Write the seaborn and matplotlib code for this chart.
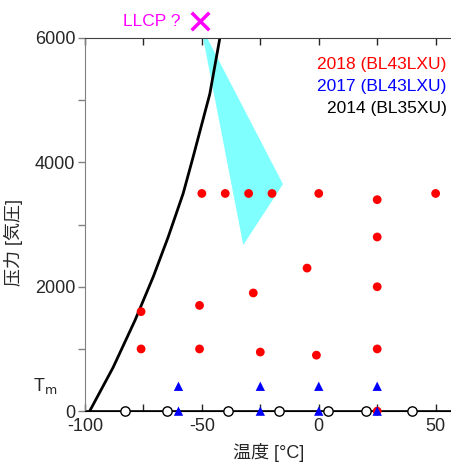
import numpy as np
import pandas as pd
import matplotlib
matplotlib.use('Agg')
import matplotlib.pyplot as plt
import seaborn as sns

# 2018 (BL43LXU) points
t_2018 = [-50, -40, -30, -20, 0, 25, 50, 25, -5, 25, -28, -51, -76, -76, -51, -25, -1, 25, 25]
p_2018 = [3500, 3500, 3500, 3500, 3500, 3400, 3500, 2800, 2300, 2000, 1900, 1700, 1600,
          1000, 1000, 950, 900, 1000, 0]
# 2017 (BL43LXU) points
t_2017 = [-60, -25, 0, 25, -60, -25, 0, 25]
p_2017 = [400, 400, 400, 400, 0, 0, 0, 0]
# 2014 (BL35XU) points
t_2014 = [-83, -65, -39, -17, 4, 20, 40]
p_2014 = [0, 0, 0, 0, 0, 0, 0]
# melting curve
t_melt = [-98, -88, -78.6, -70.8, -64.4, -58, -54, -46.6, -42.3]
p_melt = [0, 700, 1460, 2160, 2800, 3500, 4050, 5100, 6000]
# cyan region
t_zone = [-50.5, -15.3, -32.3]
p_zone = [6200, 3650, 2670]
llcp_t, llcp_p = -51, 6270

sns.set_style('ticks')
plt.rcParams['font.family'] = ['Liberation Sans', 'Noto Sans CJK JP', 'DejaVu Sans']
plt.rcParams['axes.unicode_minus'] = False

fig = plt.figure(figsize=(4.52, 4.63), dpi=100)
ax = fig.add_axes([0.188, 0.112, 0.812, 0.806])

ax.fill(t_zone, p_zone, color='#80ffff', lw=0, zorder=1)
sns.lineplot(x=t_melt, y=p_melt, sort=False, color='black', lw=2, ax=ax, zorder=2)
ax.axhline(0, color='black', lw=1.2, zorder=2)
sns.scatterplot(x=t_2018, y=p_2018, color='red', s=40, edgecolor='none', ax=ax,
                zorder=3, clip_on=False)
sns.scatterplot(x=t_2014, y=p_2014, facecolor='white', edgecolor='black', linewidth=1,
                s=45, ax=ax, zorder=4, clip_on=False)
sns.scatterplot(x=t_2017, y=p_2017, color='blue', marker='^', s=45, edgecolor='none', ax=ax,
                zorder=5, clip_on=False)
ax.scatter([llcp_t], [llcp_p], marker='x', color='magenta', s=160, linewidths=2.5,
           clip_on=False, zorder=6)
ax.text(llcp_t - 8, llcp_p, 'LLCP ?', color='magenta', fontsize=12.5,
        ha='right', va='center', clip_on=False)

ax.set_xlim(-100, 57)
ax.set_ylim(0, 6000)

ax.spines['right'].set_visible(False)
ax.spines['left'].set_color('#808080')
ax.spines['top'].set_color('#404040')
ax.spines['bottom'].set_color('black')

ax.set_xticks([-100, -50, 0, 50])
ax.set_xticks([-75, -25, 25], minor=True)
ax.set_yticks([0, 2000, 4000, 6000])
ax.set_yticks([1000, 3000, 5000], minor=True)
ax.tick_params(axis='x', which='both', direction='in', top=True, length=5, width=1,
               labelsize=13, pad=5)
ax.tick_params(axis='y', which='both', direction='out', length=5, width=1,
               labelsize=13, color='#808080', pad=2)

ax.set_xlabel('温度 [°C]', fontsize=13, labelpad=6)
ax.set_ylabel('压力 [気圧]', fontsize=13)
ax.yaxis.set_label_coords(-0.17, 0.453)

ax.text(-0.075, 410, 'T$_{\\mathrm{m}}$', transform=ax.get_yaxis_transform(),
        ha='right', va='center', fontsize=13)

ax.text(0.985, 0.93, '2018 (BL43LXU)', color='red', transform=ax.transAxes,
        ha='right', va='center', fontsize=12.5)
ax.text(0.985, 0.87, '2017 (BL43LXU)', color='blue', transform=ax.transAxes,
        ha='right', va='center', fontsize=12.5)
ax.text(0.985, 0.81, '2014 (BL35XU)', color='black', transform=ax.transAxes,
        ha='right', va='center', fontsize=12.5)

fig.savefig('out.png', dpi=100)
